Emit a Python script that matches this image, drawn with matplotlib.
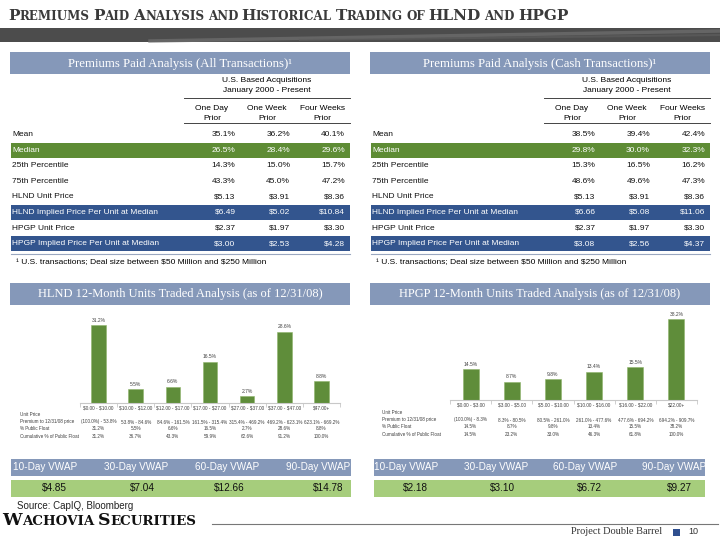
import matplotlib
matplotlib.use("Agg")
import numpy as np
import matplotlib.pyplot as plt
from matplotlib.patches import Rectangle
from matplotlib.transforms import blended_transform_factory

plt.rcParams["text.parse_math"] = False

# -----------------------------
# Data
# -----------------------------

stat_rows = ["Mean", "Median", "25th Percentile", "75th Percentile",
             "HLND Unit Price", "HLND Implied Price Per Unit at Median",
             "HPGP Unit Price", "HPGP Implied Price Per Unit at Median"]
period_cols = [("One Day", "Prior"), ("One Week", "Prior"), ("Four Weeks", "Prior")]

all_txn = [["35.1%", "36.2%", "40.1%"],
           ["26.5%", "28.4%", "29.6%"],
           ["14.3%", "15.0%", "15.7%"],
           ["43.3%", "45.0%", "47.2%"],
           ["$5.13", "$3.91", "$8.36"],
           ["$6.49", "$5.02", "$10.84"],
           ["$2.37", "$1.97", "$3.30"],
           ["$3.00", "$2.53", "$4.28"]]

cash_txn = [["38.5%", "39.4%", "42.4%"],
            ["29.8%", "30.0%", "32.3%"],
            ["15.3%", "16.5%", "16.2%"],
            ["48.6%", "49.6%", "47.3%"],
            ["$5.13", "$3.91", "$8.36"],
            ["$6.66", "$5.08", "$11.06"],
            ["$2.37", "$1.97", "$3.30"],
            ["$3.08", "$2.56", "$4.37"]]

hlnd_ranges = ["$0.00 - $10.00", "$10.00 - $12.00", "$12.00 - $17.00", "$17.00 - $27.00",
               "$27.00 - $37.00", "$37.00 - $47.00", "$47.00+"]
hlnd_premium = ["(100.0%) - 53.8%", "53.8% - 84.6%", "84.6% - 161.5%", "161.5% - 315.4%",
                "315.4% - 469.2%", "469.2% - 623.1%", "623.1% - 669.2%"]
hlnd_float = [31.2, 5.5, 6.6, 16.5, 2.7, 28.6, 8.8]
hlnd_cum = [31.2, 36.7, 43.3, 59.9, 62.6, 91.2, 100.0]

hpgp_ranges = ["$0.00 - $3.00", "$3.00 - $5.00", "$5.00 - $10.00", "$10.00 - $16.00",
               "$16.00 - $22.00", "$22.00+"]
hpgp_premium = ["(100.0%) - 8.3%", "8.3% - 80.5%", "80.5% - 261.0%", "261.0% - 477.6%",
                "477.6% - 694.2%", "694.2% - 909.7%"]
hpgp_float = [14.5, 8.7, 9.8, 13.4, 15.5, 38.2]
hpgp_cum = [14.5, 23.2, 33.0, 46.3, 61.8, 100.0]

vwap_labels = ["10-Day VWAP", "30-Day VWAP", "60-Day VWAP", "90-Day VWAP"]
hlnd_vwap = ["$4.85", "$7.04", "$12.66", "$14.78"]
hpgp_vwap = ["$2.18", "$3.10", "$6.72", "$9.27"]

# -----------------------------
# Colours / fonts
# -----------------------------

HEAD_BLUE = "#8598b9"
BAND_GREEN = "#5e8c35"
BAND_BLUE = "#33558e"
BAR_GREEN = "#5f8d3a"
VWAP_GREEN = "#a6cd7c"
SERIF = "Liberation Serif"
CAPS = "DejaVu Serif"
SANS = "Liberation Sans"

fig = plt.figure(figsize=(7.2, 5.4), dpi=100)
bg = fig.add_axes([0, 0, 1, 1])
bg.set_xlim(0, 720)
bg.set_ylim(540, 0)
bg.axis("off")
renderer = fig.canvas.get_renderer()


def small_caps(x, y, text, big, small, **kw):
    # fake small caps: capitals at big size, the rest upper-cased at small size
    for word in text.split(" "):
        i = 0
        while i < len(word):
            j = i
            up = word[i].isupper()
            while j < len(word) and word[j].isupper() == up:
                j += 1
            t = bg.text(x, y, word[i:j].upper(), fontsize=big if up else small,
                        va="baseline", ha="left", **kw)
            x += t.get_window_extent(renderer).width
            i = j
        x += big * 0.32


# title + banner
small_caps(8, 19.5, "Premiums Paid Analysis and Historical Trading of HLND and HPGP",
           11, 8.6, family=CAPS, weight="bold", color="#3a3a3a")
bg.add_patch(Rectangle((0, 28), 720, 14, color="#4c4c4c", lw=0))
bg.plot([150, 720], [41, 31], color="#707070", lw=2.5, alpha=0.7)
bg.plot([300, 720], [40, 35], color="#5e5e5e", lw=1.5, alpha=0.7)


def draw_table(x0, title, values):
    bg.add_patch(Rectangle((x0 + 10, 52), 340, 22, color=HEAD_BLUE, lw=0))
    bg.text(x0 + 180, 63.5, title, ha="center", va="center", color="white",
            family=SERIF, fontsize=9.2)
    bg.text(x0 + 267, 81, "U.S. Based Acquisitions", ha="center", va="center",
            family=SANS, fontsize=6)
    bg.text(x0 + 267, 91, "January 2000 - Present", ha="center", va="center",
            family=SANS, fontsize=6)
    bg.plot([x0 + 184, x0 + 350], [97.5, 97.5], color="#444444", lw=0.7)
    centers = [212, 267, 322]
    rights = [235.5, 290, 345]
    for c, (a, b) in zip(centers, period_cols):
        bg.text(x0 + c, 108, a, ha="center", va="center", family=SANS, fontsize=6)
        bg.text(x0 + c, 118, b, ha="center", va="center", family=SANS, fontsize=6)
    bg.plot([x0 + 184, x0 + 350], [123, 123], color="#444444", lw=0.7)

    for k, (label, vals) in enumerate(zip(stat_rows, values)):
        y = 134.5 + k * 15.6
        color = "#111111"
        if k == 1:
            bg.add_patch(Rectangle((x0 + 11, y - 7.5), 339, 15, color=BAND_GREEN, lw=0))
            color = "white"
        elif k in (5, 7):
            bg.add_patch(Rectangle((x0 + 11, y - 7.5), 339, 15, color=BAND_BLUE, lw=0))
            color = "white"
        bg.text(x0 + 12, y, label, ha="left", va="center", family=SANS,
                fontsize=6, color=color)
        for r, v in zip(rights, vals):
            bg.text(x0 + r, y, v, ha="right", va="center", family=SANS,
                    fontsize=6, color=color)
    bg.plot([x0 + 11, x0 + 350], [253.5, 253.5], color="#9aa7c0", lw=0.8)
    bg.text(x0 + 16, 262.5, "\u00b9 U.S. transactions; Deal size between $50 Million and $250 Million",
            ha="left", va="center", family=SANS, fontsize=6)


draw_table(0, "Premiums Paid Analysis (All Transactions)\u00b9", all_txn)
draw_table(360, "Premiums Paid Analysis (Cash Transactions)\u00b9", cash_txn)


def draw_bars(x0, title, px_left, px_right, base, top, ymax, cats, premium, flt, cum,
              label_x, rows_y):
    bg.add_patch(Rectangle((x0 + 10, 283), 340, 22, color=HEAD_BLUE, lw=0))
    bg.text(x0 + 180, 294, title, ha="center", va="center", color="white",
            family=SERIF, fontsize=9)

    ax = fig.add_axes([px_left / 720, (540 - base) / 540,
                       (px_right - px_left) / 720, (base - top) / 540])
    x = np.arange(len(cats))
    ax.bar(x, flt, width=0.39, color=BAR_GREEN, edgecolor="#8fb46a", lw=0.4)
    for xi, v in zip(x, flt):
        ax.text(xi, v + ymax * 0.025, f"{v:.1f}%", ha="center", va="bottom",
                fontsize=3.6, color="#404040", family=SANS)
    ax.set_xlim(-0.5, len(cats) - 0.5)
    ax.set_ylim(0, ymax)
    for s in ["top", "left", "right"]:
        ax.spines[s].set_visible(False)
    ax.spines["bottom"].set_color("#c8c8c8")
    ax.set_yticks([])
    ax.set_xticks(x)
    ax.set_xticklabels(cats, fontsize=3.4, color="#404040", family=SANS)
    ax.set_xticks(np.arange(len(cats) + 1) - 0.5, minor=True)
    ax.tick_params(axis="x", which="major", length=0, pad=2)
    ax.tick_params(axis="x", which="minor", length=3, color="#c8c8c8")
    ax.patch.set_visible(False)

    tr = blended_transform_factory(ax.transData, bg.transData)
    names = ["Unit Price", "Premium to 12/31/08 price", "% Public Float",
             "Cumulative % of Public Float"]
    for name, y in zip(names, rows_y):
        bg.text(label_x, y, name, ha="left", va="center", fontsize=3.3,
                color="#404040", family=SANS)
    for row, y in zip([premium, [f"{v:.1f}%" for v in flt], [f"{v:.1f}%" for v in cum]],
                      rows_y[1:]):
        for xi, s in zip(x, row):
            bg.text(xi, y, s, ha="center", va="center", fontsize=3.3,
                    color="#404040", family=SANS, transform=tr)


draw_bars(0, "HLND 12-Month Units Traded Analysis (as of 12/31/08)", 80, 340, 403, 310,
          37.2, hlnd_ranges, hlnd_premium, hlnd_float, hlnd_cum, 20, [415, 422, 429, 436])
draw_bars(360, "HPGP 12-Month Units Traded Analysis (as of 12/31/08)", 450, 697, 400, 308,
          43.4, hpgp_ranges, hpgp_premium, hpgp_float, hpgp_cum, 382, [413, 420, 427, 434])


def draw_vwap(x_left, x_right, label_c, value_c, values):
    bg.add_patch(Rectangle((x_left, 459), x_right - x_left, 17, color=HEAD_BLUE, lw=0))
    bg.add_patch(Rectangle((x_left, 480), x_right - x_left, 17, color=VWAP_GREEN, lw=0))
    for c, s in zip(label_c, vwap_labels):
        bg.text(c, 467.5, s, ha="center", va="center", color="white",
                family=SANS, fontsize=7.2)
    for c, s in zip(value_c, values):
        bg.text(c, 488.5, s, ha="center", va="center", color="#111111",
                family=SANS, fontsize=7.2)


draw_vwap(11, 351, [45, 136, 227, 318], [54, 142, 229, 328], hlnd_vwap)
draw_vwap(374, 705, [406, 496, 585, 674], [415, 502, 589, 679], hpgp_vwap)

# footer
bg.text(17, 506, "Source: CapIQ, Bloomberg", ha="left", va="center", family=SANS,
        fontsize=7, color="#222222")
small_caps(2, 525, "Wachovia Securities", 12.5, 9.6, family=CAPS, weight="bold", color="#111111")
bg.plot([212, 718], [524, 524], color="#777777", lw=0.8)
bg.text(662, 532, "Project Double Barrel", ha="right", va="center", family=SERIF,
        fontsize=7.5, color="#333333")
bg.add_patch(Rectangle((673, 528.5), 7, 7, color="#2f4f8f", lw=0))
bg.text(688, 532, "10", ha="left", va="center", family=SANS, fontsize=6.5,
        color="#333333")

fig.savefig("out.png", dpi=100)
